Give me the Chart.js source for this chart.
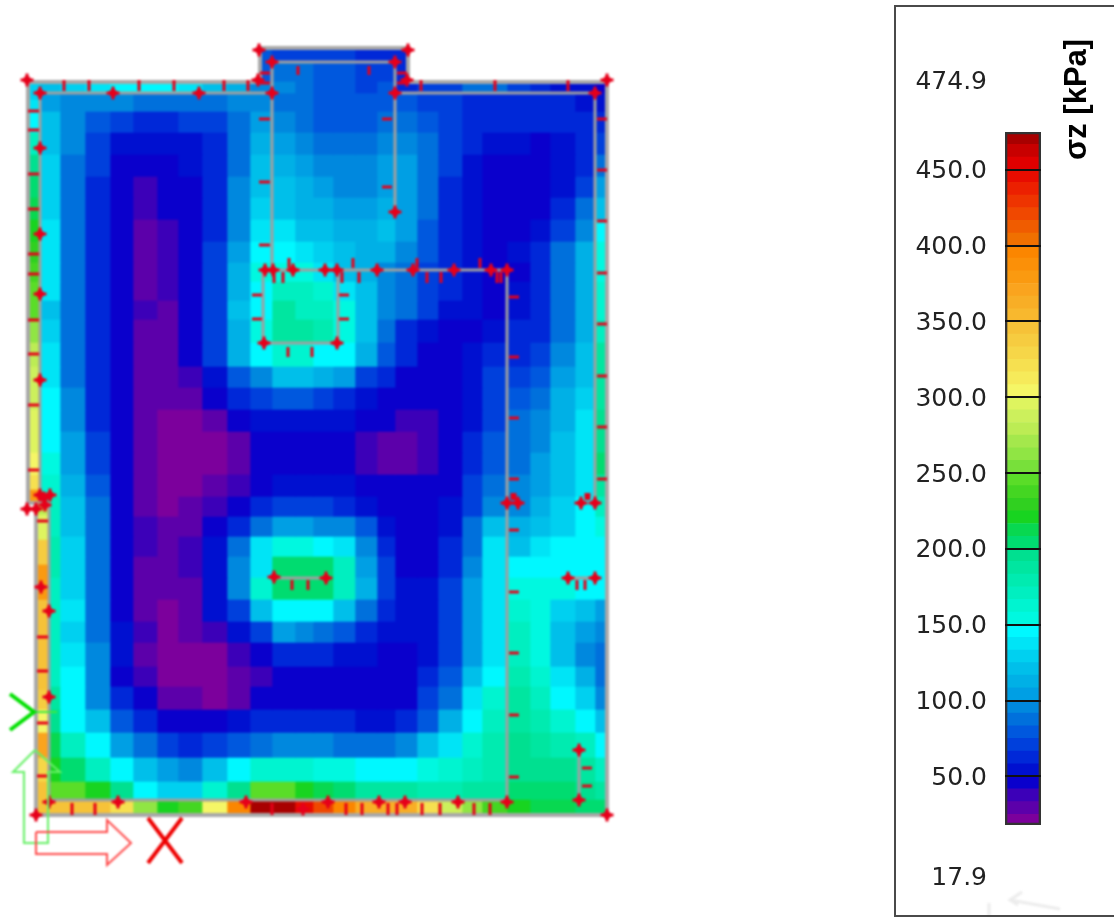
<!DOCTYPE html>
<html>
<head>
<meta charset="utf-8">
<title>Contact stress</title>
<script src="https://cdn.jsdelivr.net/npm/chart.js@4"></script>
<style>
    html, body { margin: 0; padding: 0; background: #fff; overflow: hidden; }
    #plan { position: absolute; left: 0; top: 0; filter: blur(0.8px); }
    #scale { position: absolute; left: 895px; top: 0; }
    #box { position: absolute; left: 894px; top: 5px; width: 400px; height: 912px; box-sizing: border-box; border: 2px solid #4a4a4a; }
</style>
</head>
<body>
<canvas id="plan" width="1114" height="919"></canvas>
<div id="box"></div>
<canvas id="scale" width="219" height="919"></canvas>
<script>
// plan coordinates: 0,0 is the bottom left corner of the slab strip
const xEdges = [12,32,57,82,105,129,150,174,199,222,244,267,285,305,327,349,367,389,410,434,454,479,502,522,547,567];
const yEdges = [722,703,682,660,638,617,595,573,552,533,514,495,472,448,427,405,383,362,340,318,298,278,258,237,215,193,172,148,128,105,82,57,33,15];

// sigma z in kPa, one row per mesh row, top to bottom
const stress = [
    [105,98,95,92,90,90,90,90,92,100,90,85,80,78,78,80,82,75,70,66,64,64,62,60,58],
    [120,95,80,68,65,65,68,72,90,105,98,88,82,78,78,85,90,80,72,66,62,60,60,60,62],
    [125,92,72,58,58,56,58,62,85,110,105,95,90,85,84,92,100,85,70,60,56,52,50,55,62],
    [130,90,68,50,48,47,52,60,85,118,112,102,98,92,92,102,105,88,68,56,50,47,47,52,65],
    [132,88,64,48,40,45,50,62,92,125,120,110,105,100,100,108,108,88,66,52,48,47,47,55,72],
    [132,88,62,45,36,42,48,62,95,130,125,115,112,108,108,115,108,88,64,52,48,47,50,62,85],
    [135,85,60,42,33,38,48,65,100,138,135,125,120,115,115,120,105,82,62,52,48,48,55,72,95],
    [138,90,60,42,32,38,47,68,105,145,145,135,128,120,115,112,100,80,64,55,50,52,62,85,110],
    [140,90,60,42,30,35,45,70,112,152,158,152,140,120,110,100,90,75,62,55,50,50,62,90,115],
    [140,90,62,44,30,35,45,72,115,150,175,172,160,140,120,100,85,70,62,57,50,52,62,85,110],
    [125,90,60,45,35,32,50,75,118,150,185,175,170,155,125,100,85,68,58,52,48,52,64,85,110],
    [130,90,60,45,33,33,48,72,115,155,190,185,180,155,120,85,62,55,50,50,55,60,60,90,115],
    [135,90,60,45,32,30,50,68,110,150,165,160,150,145,115,78,62,50,47,52,60,65,72,95,120],
    [140,90,60,45,30,30,38,52,78,100,118,122,110,105,75,60,50,47,47,55,68,72,82,102,125],
    [150,92,62,45,28,27,32,48,60,72,80,78,70,65,55,50,45,47,48,58,70,78,88,110,130],
    [150,95,65,47,28,24,25,33,48,55,58,56,52,52,48,43,37,36,48,58,72,85,95,115,135],
    [150,102,68,48,27,20,20,25,30,42,48,48,48,48,40,30,30,40,47,60,78,88,100,120,138],
    [158,105,70,50,28,20,20,25,32,45,48,48,48,48,35,30,30,40,48,60,78,90,105,125,140],
    [165,112,78,50,30,22,23,30,38,50,56,56,58,55,50,47,44,44,50,68,85,95,105,120,140],
    [175,122,85,50,32,25,28,38,48,62,70,72,70,65,55,48,46,46,55,75,95,100,115,130,150],
    [175,125,90,50,35,27,32,48,62,85,105,102,100,95,80,58,48,47,58,85,118,110,120,130,148],
    [178,128,88,50,35,27,35,55,90,135,152,155,150,135,100,65,50,50,62,90,135,125,135,145,150],
    [178,128,85,50,33,27,35,58,95,140,205,207,205,170,105,70,50,48,60,95,135,145,150,150,150],
    [175,130,85,50,33,28,33,55,100,160,205,205,205,172,115,70,58,55,72,105,135,155,152,152,150],
    [168,135,88,50,33,25,33,52,72,120,150,150,150,125,85,60,52,52,68,105,140,160,152,128,125],
    [170,130,90,52,35,25,26,36,55,75,105,95,90,78,62,52,52,58,72,105,140,170,155,122,105],
    [175,135,92,55,33,21,20,25,40,50,65,62,60,57,52,48,50,58,75,108,140,175,155,125,100],
    [170,145,95,50,35,22,19,21,32,38,48,48,46,46,46,46,50,60,80,120,150,180,165,140,115],
    [185,150,95,65,46,30,26,25,30,45,48,48,47,47,47,48,50,68,90,135,160,185,170,150,130],
    [195,145,118,78,60,50,47,50,55,60,62,62,60,60,58,58,62,82,115,150,170,190,178,165,145],
    [210,175,148,108,85,68,62,70,82,90,95,95,95,90,90,90,100,120,140,165,180,195,190,180,170],
    [225,205,175,150,120,102,100,118,150,160,165,165,158,155,150,150,150,155,165,175,180,195,195,198,190],
    [245,245,225,195,150,132,132,165,200,243,243,225,215,205,190,190,185,180,182,185,190,205,205,205,195]
];

// strips outside the inner wall line
const topStrip = [118,130,135,142,150,150,140,125,110,95,null,null,null,null,null,null,62,68,72,88,85,72,62,58,52];
const bottomStrip = [345,345,345,320,265,225,240,305,395,470,468,450,425,395,365,365,365,320,290,265,240,222,212,210,208];
const rightStrip = [50,55,62,70,85,105,125,150,152,155,160,165,172,185,185,190,195,200,205,190,175,155,150,150,150,108,95,85,85,95,120,150,175,190,205];
const upperLeftEdges = [733,715,703,682,660,638,617,595,573,552,533,514,495,472,448,427,405,383,362,340,325,312];
const upperLeft = [130,138,145,170,195,205,215,225,232,240,245,250,265,278,285,290,295,298,305,320,380];
const lowerLeftEdges = [312,300,275,250,215,150,125,105,82,57,33,0];
const lowerLeft = [280,300,340,380,350,350,340,305,375,330,345];

// the tab at the top of the plan
const tabEdges = [232,244,267,285,305,327,349,367,380];
const tabOuter = [78,72,68,70,68,65,65,60];
const tabMiddle = [80,90,88,80,76,73,73,60];
const tabInner = [null,92,86,80,76,74,76,null];

// walls, null breaks the line
const outlineX = [0,232,232,380,380,579,579,8,8,0,0];
const outlineY = [733,733,767,767,733,733,0,0,312,312,733];
const wallX = [12,244,244,367,367,567,567,null,244,244,null,367,367,null,12,12,21,21,479,479,235,235,310,310,null,247,297,null,539,567,null,551,551];
const wallY = [722,722,753,753,722,722,312,null,722,545,null,722,603,null,722,312,312,15,15,545,545,472,472,545,null,237,237,null,237,237,null,65,15];

// support nodes
const nodeX = [-1,231,244,12,85,171,244,12,12,12,237,245,265,230,380,367,367,379,579,567,367,297,309,349,385,426,463,479,12,236,246,12,22,16,-1,8,17,309,298,479,490,553,567,540,567,551,551,479,430,377,351,300,579,21,21,13,21,90,218,8,275];
const nodeY = [735,765,753,722,722,722,722,667,581,521,545,545,545,735,765,753,722,735,735,722,603,545,545,545,545,545,545,545,435,472,238,320,320,317,306,306,310,472,237,312,312,312,312,237,237,65,15,13,13,13,13,13,0,204,118,228,13,13,13,0,6];

// short load ticks: from, to, then the positions along the wall
const flatTicks = [
    [0,11,[704,685,641,606,561,541,495,461,410,345]],
    [9,20,[294,178,144,92,39]],
    [232,242,[742,732]],
    [231,242,[696,633,570]],
    [224,234,[520,496]],
    [354,364,[696,628]],
    [369,379,[742,732]],
    [311,321,[520,496]],
    [569,579,[696,645,594,542,491,439,388,336]],
    [481,491,[518,458,397,336,285,223,162,100,38]],
    [554,564,[47,29]]
];
const uprightTicks = [
    [724,735,[36,61,111,146,196,220,393,467,540]],
    [740,749,[270,341]],
    [532,543,[246,255,314,331,399,413,469,473]],
    [547,557,[261,325,389,452]],
    [458,468,[260,284]],
    [315,322,[484,487,558,561]],
    [225,235,[264,280,549,557]],
    [0,12,[44,67,244,318,334,360,369,394,412,446,462]]
];

// axis arrows
const xArrowX = [8,79,79,103,79,79,8,8];
const xArrowY = [-17,-17,-5,-28,-50,-39,-39,-17];
const xMarkX = [120,154,null,154,120];
const xMarkY = [-3,-48,null,-3,-48];
const yArrowX = [7,-15,-4,-4,20,20,32,7];
const yArrowY = [65,43,43,-28,-28,43,43,65];
const yMarkX = [-18,6,-18];
const yMarkY = [121,103,85];
const yStemX = [6,29];
const yStemY = [103,103];
const ghostX = [961,961,null,982,1032,null,994,982,990];
const ghostY = [-88,-101,null,-85,-94,null,-77,-85,-90];

// colour scale
const legendMin = 17.9;
const legendMax = 474.9;
const legendTicks = [50,100,150,200,250,300,350,400,450];
const bandEdges = [17.9,25,33.3,41.7,50,58.3,66.7,75,83.3,91.7,100,108.3,116.7,125,133.3,141.7,150,158.3,166.7,175,183.3,191.7,200,208.3,216.7,225,233.3,241.7,250,258.3,266.7,275,283.3,291.7,300,308.3,316.7,325,333.3,341.7,350,358.3,366.7,375,383.3,391.7,400,408.3,416.7,425,433.3,441.7,450,458.3,466.7,474.9];
const bandColors = ["#7c009c","#5c00aa","#3c00b8","#0a00cc","#0010d0","#0028d8","#0040dc","#0058de","#0070dc","#0088de",
    "#009fe4","#00b0e6","#00bfea","#00d0f0","#00e4f6","#00f8ff","#00f8e0","#00f4d0","#00efc0","#00ebb0",
    "#00e6a0","#00e090","#00dc70","#08d850","#18d420","#30d020","#44d622","#5add28","#78e03a","#90e544",
    "#a4e84c","#bcec54","#ccf05c","#def45f","#f5f666","#f6ea5a","#f6e050","#f6d648","#f6cc40","#f6c238",
    "#f8b82e","#f8ae26","#faa41e","#fa9a10","#fb9008","#fb8600","#f07000","#f05c00","#f04800","#ee3400",
    "#ec2000","#e80c00","#e00000","#c80000","#a80000"];

function colorFor(value) {
    for (let i = 0; i < bandColors.length; i++) {
        if (value <= bandEdges[i + 1]) return bandColors[i];
    }
    return bandColors[bandColors.length - 1];
}

// cells are floating bars, one dataset per column width
const columns = new Map();
function addCell(x0, x1, y0, y1, value, order) {
    if (value === null) return;
    const key = x0 + "_" + x1 + "_" + order;
    if (!columns.has(key)) {
        columns.set(key, {
            type: "bar",
            data: [],
            backgroundColor: [],
            barThickness: x1 - x0,
            order: order
        });
    }
    const col = columns.get(key);
    col.data.push({ x: (x0 + x1) / 2, y: [y1, y0] });
    col.backgroundColor.push(colorFor(value));
}

stress.forEach((row, r) => {
    row.forEach((v, c) => addCell(xEdges[c], xEdges[c + 1], yEdges[r], yEdges[r + 1], v, 10));
});
topStrip.forEach((v, c) => addCell(xEdges[c], xEdges[c + 1], 733, 722, v, 10));
bottomStrip.forEach((v, c) => addCell(xEdges[c], xEdges[c + 1], 15, 0, v, 10));
const rightEdges = [733].concat(yEdges, [0]);
rightStrip.forEach((v, r) => addCell(567, 579, rightEdges[r], rightEdges[r + 1], v, 10));
upperLeft.forEach((v, r) => addCell(0, 12, upperLeftEdges[r], upperLeftEdges[r + 1], v, 9));
lowerLeft.forEach((v, r) => addCell(8, 21, lowerLeftEdges[r], lowerLeftEdges[r + 1], v, 9));
tabOuter.forEach((v, c) => addCell(tabEdges[c], tabEdges[c + 1], 767, 753, v, 10));
tabMiddle.forEach((v, c) => addCell(tabEdges[c], tabEdges[c + 1], 753, 733, v, 10));
tabInner.forEach((v, c) => addCell(tabEdges[c], tabEdges[c + 1], 733, 722, v, 10));

function points(xs, ys) {
    return xs.map((x, i) => ({ x: x, y: ys[i] }));
}

function lineSet(xs, ys, color, width, order) {
    return {
        type: "line",
        data: points(xs, ys),
        borderColor: color,
        borderWidth: width,
        pointRadius: 0,
        tension: 0,
        spanGaps: false,
        borderJoinStyle: "miter",
        order: order
    };
}

const tickX = [];
const tickY = [];
flatTicks.forEach(t => t[2].forEach(y => {
    tickX.push(t[0], t[1], null);
    tickY.push(y, y, null);
}));
uprightTicks.forEach(t => t[2].forEach(x => {
    tickX.push(x, x, null);
    tickY.push(t[0], t[1], null);
}));

const planSets = Array.from(columns.values());
planSets.push(lineSet(outlineX, outlineY, "#a8a8a8", 4, 4));
planSets.push(lineSet(wallX, wallY, "#a0a0a0", 3, 3));
planSets.push(lineSet(tickX, tickY, "#e6001a", 3, 2));
planSets.push({
    type: "line", data: points(nodeX, nodeY), showLine: false, order: 1,
    pointStyle: "rectRot", pointRadius: 5.5, pointBackgroundColor: "#e6001a", pointBorderWidth: 0
});
planSets.push({
    type: "line", data: points(nodeX, nodeY), showLine: false, order: 1,
    pointStyle: "cross", pointRadius: 6.5, pointBorderColor: "#e6001a", pointBorderWidth: 3
});
planSets.push(lineSet(xArrowX, xArrowY, "#ff4a4a", 2, 0));
planSets.push(lineSet(xMarkX, xMarkY, "#ee0000", 4, 0));
planSets.push(lineSet(yArrowX, yArrowY, "#66f066", 2, 0));
planSets.push(lineSet(yMarkX, yMarkY, "#00e000", 4, 0));
planSets.push(lineSet(yStemX, yStemY, "#40e840", 2, 0));
planSets.push(lineSet(ghostX, ghostY, "#ececec", 3, 5));

new Chart(document.getElementById("plan"), {
    type: "bar",
    data: { datasets: planSets },
    options: {
        responsive: false,
        animation: false,
        events: [],
        layout: { padding: 0, autoPadding: false },
        plugins: { legend: { display: false }, tooltip: { enabled: false } },
        scales: {
            x: { type: "linear", min: -28, max: 1086, stacked: true, offset: false, display: false },
            y: { type: "linear", min: -104, max: 815, display: false }
        }
    }
});

// legend bar
const scaleSets = bandColors.map((color, i) => ({
    data: [[bandEdges[i], bandEdges[i + 1]]],
    backgroundColor: color,
    borderWidth: 0,
    order: 2
}));
scaleSets.push({
    data: [[legendMin, legendMax]],
    backgroundColor: "rgba(0,0,0,0)",
    borderColor: "#333",
    borderWidth: 2,
    borderSkipped: false,
    order: 1
});

const scaleText = {
    id: "scaleText",
    afterDraw(chart) {
        const ctx = chart.ctx;
        const y = chart.scales.y;
        ctx.save();
        ctx.fillStyle = "#222";
        ctx.font = "25px 'DejaVu Sans'";
        ctx.textAlign = "right";
        ctx.textBaseline = "middle";
        ctx.fillText(legendMax.toFixed(1), 92, y.getPixelForValue(legendMax) - 50);
        ctx.fillText(legendMin.toFixed(1), 92, y.getPixelForValue(legendMin) + 53);
        ctx.translate(191, 160);
        ctx.rotate(-Math.PI / 2);
        ctx.fillStyle = "#000";
        ctx.font = "bold 31px 'Liberation Sans'";
        ctx.textAlign = "left";
        ctx.textBaseline = "alphabetic";
        ctx.fillText("σz [kPa]", 0, 0);
        ctx.restore();
    }
};

new Chart(document.getElementById("scale"), {
    type: "bar",
    data: { labels: ["σz"], datasets: scaleSets },
    plugins: [scaleText],
    options: {
        responsive: false,
        animation: false,
        events: [],
        grouped: false,
        barPercentage: 1,
        categoryPercentage: 1,
        layout: { padding: { top: 132, bottom: 94, left: 0, right: 73 }, autoPadding: false },
        plugins: { legend: { display: false }, tooltip: { enabled: false } },
        scales: {
            x: { display: false },
            y: {
                min: legendMin,
                max: legendMax,
                afterFit(scale) { scale.width = 110; },
                afterBuildTicks(scale) { scale.ticks = legendTicks.map(v => ({ value: v })); },
                border: { display: false },
                grid: { color: "#111", lineWidth: 2, drawTicks: false, z: 1 },
                ticks: {
                    autoSkip: false,
                    padding: 18,
                    labelOffset: 2,
                    color: "#222",
                    font: { family: "'DejaVu Sans'", size: 25 },
                    callback: v => Number(v).toFixed(1)
                }
            }
        }
    }
});
</script>
</body>
</html>
